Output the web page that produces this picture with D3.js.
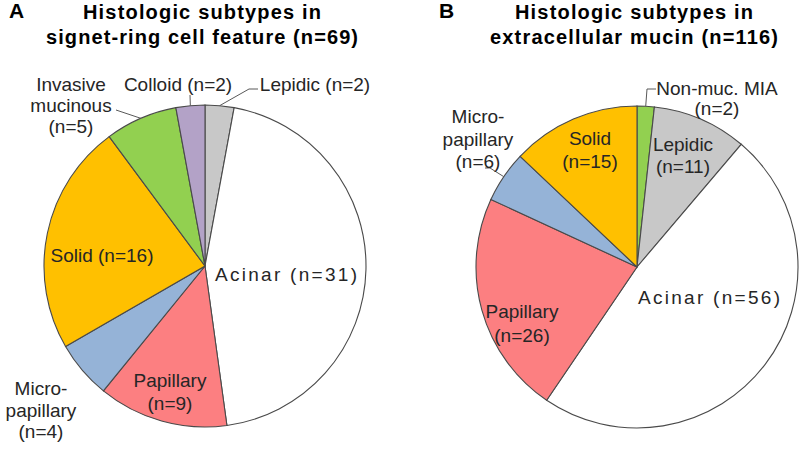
<!DOCTYPE html>
<html><head><meta charset="utf-8">
<script src="https://cdn.jsdelivr.net/npm/d3@7"></script>
<style>body{margin:0;background:#fff}svg{display:block}</style>
</head><body>
<svg id="chart" width="800" height="449"></svg>
<script>
// ---- data ----
const subtypesA = ["Lepidic","Acinar","Papillary","Micropapillary","Solid","Invasive mucinous","Colloid"];
const countsA   = [2,31,9,4,16,5,2];
const subtypesB = ["Non-muc. MIA","Lepidic","Acinar","Papillary","Micropapillary","Solid"];
const countsB   = [2,11,56,26,6,15];
const titleA = ["Histologic subtypes in","signet-ring cell feature (n=69)"];
const titleB = ["Histologic subtypes in","extracellular mucin (n=116)"];
const labelsA = [["Lepidic (n=2)"],["Acinar (n=31)"],["Papillary","(n=9)"],["Micro-","papillary","(n=4)"],["Solid (n=16)"],["Invasive","mucinous","(n=5)"],["Colloid (n=2)"]];
const labelsB = [["Non-muc. MIA","(n=2)"],["Lepidic","(n=11)"],["Acinar (n=56)"],["Papillary","(n=26)"],["Micro-","papillary","(n=6)"],["Solid","(n=15)"]];

const colorMap = {
  "Lepidic":"#c8c8c8","Acinar":"#ffffff","Papillary":"#fc7f81","Micropapillary":"#95b3d7",
  "Solid":"#ffc000","Invasive mucinous":"#92d050","Colloid":"#b3a2c7","Non-muc. MIA":"#92d050"
};

const svg = d3.select("#chart");
const R = 161;

// label layout: x, first baseline, line gap, optional leader start points, optional width
const layoutA = [
  {x:315, y:91, gap:21, leader:[[258,89],[249,89]]},
  {x:286, y:281, gap:21, w:142},
  {x:170, y:387, gap:23},
  {x:41, y:395, gap:21.5},
  {x:102, y:262, gap:21},
  {x:71, y:91, gap:21, leader:[[116,110]]},
  {x:178, y:91, gap:21, leader:[[190,95]]}
];
const layoutB = [
  {x:717, y:95, gap:19.5, leader:[[656,89],[647,89]]},
  {x:683, y:151, gap:22},
  {x:709, y:304, gap:22, w:142},
  {x:522, y:318, gap:24},
  {x:478, y:123, gap:22.5, leader:[[485,168],[490,168]]},
  {x:590, y:145, gap:23}
];

function drawPie(cx, cy, names, counts, labels, layout, letter, letterX, title, titleX, titleWidths){
  const g = svg.append("g");
  const pie = d3.pie().sort(null).value(d => d.v);
  const arcs = pie(names.map((n,i)=>({name:n, v:counts[i]})));
  const arc = d3.arc().innerRadius(0).outerRadius(R);
  const pg = g.append("g").attr("transform",`translate(${cx},${cy})`);
  pg.selectAll("path").data(arcs).join("path")
    .attr("d", arc)
    .attr("fill", d => colorMap[d.data.name])
    .attr("stroke", "#4a4a4a").attr("stroke-width", 1.1);

  // leaders
  arcs.forEach((a,i)=>{
    const L = layout[i];
    if(!L.leader) return;
    const mid = (a.startAngle + a.endAngle)/2;
    const end = [cx + R*Math.sin(mid), cy - R*Math.cos(mid)];
    const pts = L.leader.concat([end]);
    g.append("path").attr("d", d3.line()(pts))
      .attr("fill","none").attr("stroke","#595959").attr("stroke-width",1);
  });

  // labels
  arcs.forEach((a,i)=>{
    const L = layout[i];
    const t = g.append("text").attr("text-anchor","middle")
      .attr("font-family","'Liberation Sans', Arial, sans-serif")
      .attr("font-size","19px").attr("fill","#262626");
    labels[i].forEach((line,j)=>{
      const ts = t.append("tspan").attr("x", L.x).attr("y", L.y + j*L.gap).text(line);
      if(L.w) ts.attr("textLength", L.w).attr("lengthAdjust","spacing");
    });
  });

  // title
  g.append("text").attr("x", letterX).attr("y", 18)
    .attr("font-family","'Liberation Sans', Arial, sans-serif").attr("font-weight","bold")
    .attr("font-size","21px").attr("fill","#000").text(letter);
  title.forEach((line,j)=>{
    g.append("text").attr("x", titleX).attr("y", 19 + j*25).attr("text-anchor","middle")
      .attr("font-family","'Liberation Sans', Arial, sans-serif").attr("font-weight","bold")
      .attr("font-size","20px").attr("fill","#000")
      .attr("textLength", titleWidths[j]).attr("lengthAdjust","spacing")
      .text(line);
  });
}

drawPie(205, 266, subtypesA, countsA, labelsA, layoutA, "A", 9, titleA, 202, [238, 312]);
drawPie(637, 267, subtypesB, countsB, labelsB, layoutB, "B", 439, titleB, 634, [238, 288]);
</script>
</body></html>
